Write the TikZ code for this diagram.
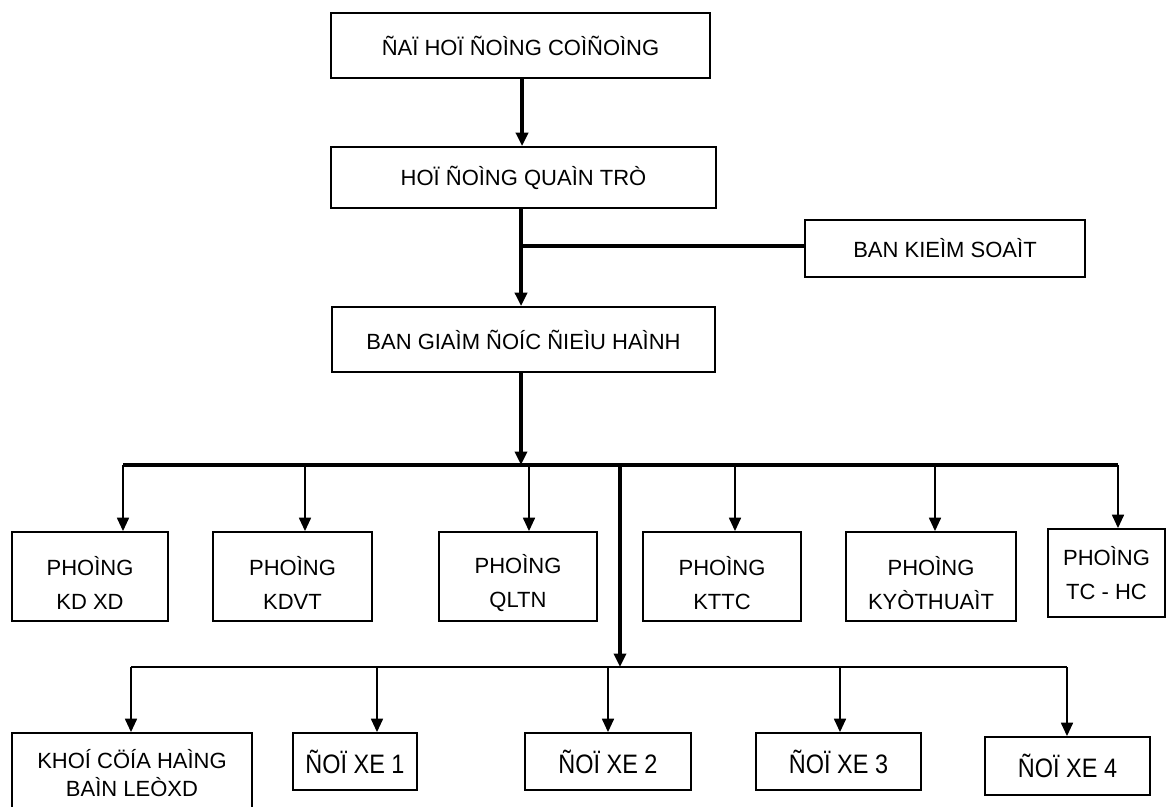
\documentclass[tikz,border=0pt]{standalone}
\usepackage{fontspec}
\setmainfont{Liberation Sans}
\newfontfamily\narrowfont{Liberation Sans}[FakeStretch=0.88]
\usetikzlibrary{arrows.meta}
\begin{document}
\begin{tikzpicture}[x=0.75pt,y=-0.75pt,
  box/.style={draw, line width=1.4pt, inner sep=0pt, font=\fontsize{16.5}{25.5}\selectfont, align=center},
  txt/.style={inner sep=0pt, font=\fontsize{16.5}{25.5}\selectfont, align=center},
  xebox/.style={box, font=\narrowfont\fontsize{20}{22}\selectfont},
  sz/.style 2 args={minimum width=#1*0.75pt, minimum height=#2*0.75pt},
  thick arr/.style={line width=2.4pt, -{Triangle[width=9pt,length=10pt]}},
  thin arr/.style={line width=1.2pt, -{Triangle[width=9pt,length=10pt]}},
  bus/.style={line width=2.4pt},
  thinbus/.style={line width=1.2pt}]
\useasboundingbox (0,0) rectangle (1172,807);
\clip (0,0) rectangle (1172,807);
% top levels
\node[box, sz={379}{65}] (dhd) at (520.5,45.5) {ÑAÏ HOÏ ÑOÌNG COÌÑOÌNG};
\node[box, sz={385}{61}] (hdqt) at (523.5,177.5) {HOÏ ÑOÌNG QUAÌN TRÒ};
\node[box, sz={280}{57}] (bks) at (945,248.5) {BAN KIEÌM SOAÌT};
\node[box, sz={383}{65}] (bgd) at (523.5,339.5) {BAN GIAÌM ÑOÍC ÑIEÌU HAÌNH};
% row of departments
\node[box, sz={156}{89}] (kdxd) at (90,576.5) {};
\node[box, sz={159}{89}] (kdvt) at (292.5,576.5) {};
\node[box, sz={158}{89}] (qltn) at (518,576.5) {};
\node[box, sz={158}{89}] (kttc) at (722,576.5) {};
\node[box, sz={170}{89}] (kt) at (931,576.5) {};
\node[txt] (kdxdt) at ([yshift=-5.2pt]kdxd.center) {PHOÌNG\\KD XD};
\node[txt] (kdvtt) at ([yshift=-5.2pt]kdvt.center) {PHOÌNG\\KDVT};
\node[txt] (qltnt) at ([yshift=-5.2pt]qltn.center) {PHOÌNG\\QLTN};
\node[txt] (kttct) at ([yshift=-5.2pt]kttc.center) {PHOÌNG\\KTTC};
\node[txt] (ktt) at ([yshift=-5.2pt]kt.center) {PHOÌNG\\KYÒTHUAÌT};
\node[box, sz={117}{88}] (tchc) at (1106.5,573) {PHOÌNG\\TC - HC};
% bottom row
\node[box, sz={240}{80}, font=\fontsize{16.5}{21}\selectfont] (khoi) at (132,773) {KHOÍ CÖÍA HAÌNG\\BAÌN LEÒXD};
\node[xebox, sz={124}{57}] (xe1) at (355,761.5) {ÑOÏ XE 1};
\node[xebox, sz={166}{57}] (xe2) at (608,761.5) {ÑOÏ XE 2};
\node[xebox, sz={165}{57}] (xe3) at (838.5,761.5) {ÑOÏ XE 3};
\node[xebox, sz={165}{58}] (xe4) at (1067.5,766) {ÑOÏ XE 4};
% junction coordinates
\coordinate (j1) at (521,246);
\coordinate (t1) at (123,465);
\coordinate (t2) at (305,465);
\coordinate (t3) at (529,465);
\coordinate (tc) at (620,465);
\coordinate (t4) at (735,465);
\coordinate (t5) at (935,465);
\coordinate (t6) at (1118,465);
\coordinate (u1) at (131,667);
\coordinate (u2) at (377,667);
\coordinate (u3) at (608,667);
\coordinate (uc) at (620,667);
\coordinate (u4) at (840,667);
\coordinate (u5) at (1067,667);
% connectors
\draw[thick arr] (dhd.south -| 522,0) -- (hdqt.north -| 522,0);
\draw[thick arr] (hdqt.south -| j1) -- (bgd.north -| j1);
\draw[bus] (j1) -- (j1 -| bks.west);
\draw[thick arr] (bgd.south -| j1) -- (t1 -| j1);
\draw[bus] (t1) -- (t6);
\draw[thin arr] (t1) -- (t1 |- kdxd.north);
\draw[thin arr] (t2) -- (t2 |- kdvt.north);
\draw[thin arr] (t3) -- (t3 |- qltn.north);
\draw[thin arr] (t4) -- (t4 |- kttc.north);
\draw[thin arr] (t5) -- (t5 |- kt.north);
\draw[thin arr] (t6) -- (t6 |- tchc.north);
\draw[thick arr] (tc) -- (uc);
\draw[thinbus] (u1) -- (u5);
\draw[thin arr] (u1) -- (u1 |- khoi.north);
\draw[thin arr] (u2) -- (u2 |- xe1.north);
\draw[thin arr] (u3) -- (u3 |- xe2.north);
\draw[thin arr] (u4) -- (u4 |- xe3.north);
\draw[thin arr] (u5) -- (u5 |- xe4.north);
\end{tikzpicture}
\end{document}
